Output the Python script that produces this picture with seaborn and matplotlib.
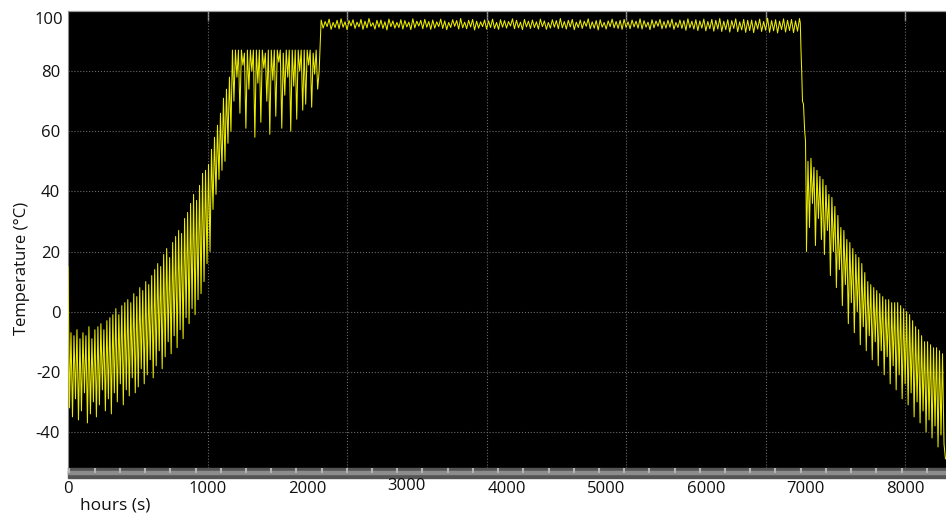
import numpy as np
import pandas as pd
import matplotlib
matplotlib.use("Agg")
import matplotlib.pyplot as plt
from matplotlib.patches import Rectangle
import seaborn as sns

# temperature trace, piece by piece
# warm-up: regular 15 s steps from the left edge
warmup_start, warmup_step = -400, 15
warmup = [15, -32, -7, -35, -8, -29, -6, -36, -9, -33,
          -7, -27, -8, -37, -5, -34, -9, -30, -6, -35,
          -5, -31, -4, -26, -6, -33, -3, -29, -2, -34,
          -1, -27, 1, -30, -1, -24, 2, -31, 3, -26,
          4, -28, 3, -22, 6, -27, 5, -25, 8, -19,
          7, -24, 10, -21, 9, -16, 12, -22, 14, -18,
          16, -13, 15, -19, 19, -15, 21, -10, 18, -14,
          23, -8, 25, -12, 27, -6, 26, -9, 31, -2,
          33, -4, 36, 1, 39, -1, 37, 4, 42, 6,
          46, 10, 47, 16, 49, 20, 54, 34, 58, 39,
          62, 44, 66, 47, 71, 50, 74, 56, 78, 60, 87]

# first hold, capped near 87
hold87_start, hold87_step = 1265, 15
hold87 = [70, 87, 78, 87, 66, 87, 82, 86, 61, 87,
          74, 87, 80, 87, 58, 87, 76, 87, 63, 87,
          81, 86, 70, 87, 59, 87, 77, 87, 65, 87,
          83, 87, 61, 86, 72, 87, 78, 87, 60, 87,
          75, 87, 64, 87, 80, 87, 67, 87, 69, 87,
          82, 87, 68, 86, 79, 87, 74, 80]

# second hold around 95
hold97_start, hold97_step = 2140, 20
hold97 = [97.0, 94.3, 96.5, 94.8, 97.3, 93.9, 96.2, 94.5, 96.9, 94.1,
          97.4, 94.6, 96.4, 93.8, 96.8, 95.0, 97.1, 94.2, 96.3, 94.7,
          97.2, 93.9, 96.6, 94.4, 97.5, 94.9, 96.1, 94.0, 96.9, 94.6,
          97.0, 94.2, 96.4, 93.7, 97.3, 94.8, 96.7, 94.3, 96.2, 94.5,
          97.1, 94.0, 96.8, 94.7, 96.3, 93.8, 97.4, 94.4, 96.6, 95.0,
          96.9, 94.1, 97.2, 94.6, 96.5, 93.9, 97.0, 94.3, 96.4, 94.8,
          97.3, 94.2, 96.7, 93.8, 96.2, 94.5, 97.1, 94.9, 96.8, 94.0,
          97.5, 94.4, 96.3, 94.1, 96.9, 94.7, 97.2, 93.7, 96.6, 94.3,
          96.4, 94.8, 97.0, 94.0, 96.7, 94.5, 97.3, 94.2, 96.2, 93.9,
          97.1, 94.6, 96.8, 94.3, 96.5, 95.0, 97.4, 94.1, 96.9, 94.4,
          96.3, 93.8, 97.2, 94.7, 96.6, 94.2, 97.0, 94.5, 96.4, 94.0,
          97.3, 94.8, 96.7, 93.9, 96.2, 94.3, 97.1, 94.6, 96.8, 94.1,
          97.5, 94.4, 96.5, 94.0, 96.9, 94.7, 97.2, 93.8, 96.3, 94.5,
          97.0, 94.2, 96.6, 94.9, 97.4, 94.1, 96.4, 94.3, 96.8, 93.7,
          97.1, 94.6, 96.2, 94.0, 96.7, 94.8, 97.3, 94.4, 96.5, 94.2,
          96.9, 93.9, 97.2, 94.5, 96.4, 94.1, 97.0, 94.7, 96.6, 94.3,
          97.4, 94.0, 96.8, 94.6, 96.3, 93.8, 97.1, 94.4, 96.7, 94.9,
          97.2, 94.1, 96.5, 94.3, 96.9, 94.6, 97.3, 93.9, 96.2, 94.5,
          97.0, 94.2, 96.8, 93.6, 97.4, 94.4, 96.6, 94.0, 97.1, 93.5,
          96.7, 94.3, 97.3, 93.4, 96.5, 94.1, 97.2, 93.3, 96.9, 94.0,
          97.5, 93.2, 96.6, 93.8, 97.1, 93.0, 96.8, 94.2, 97.4, 93.1,
          96.4, 93.7, 97.2, 92.9, 96.9, 93.5, 97.0, 92.8, 96.7, 94.0,
          97.3, 93.2, 96.5, 93.6, 97.6, 92.9, 96.8, 93.4, 97.1, 92.7,
          96.6, 93.8, 97.4, 93.0, 96.9, 93.5, 97.2, 92.8, 96.7, 93.3,
          97.5]

# sharp fall after the second hold
drop_t = [6948, 6955, 6962, 6970, 6980, 6992, 7000, 7006, 7010]
drop_v = [96, 87, 80, 70, 69, 60, 57, 40, 20]

# cool-down
cool_start, cool_step = 7025, 15
cool = [50, 28, 51, 36, 48, 22, 47, 31, 45, 24,
        44, 19, 42, 27, 39, 12, 38, 20, 35, 8,
        32, 14, 28, 2, 27, 9, 24, -4, 23, 3,
        21, -7, 19, 0, 18, -11, 16, -5, 13, -13,
        10, -8, 9, -16, 8, -10, 7, -18, 6, -13,
        5, -21, 4, -15, 4, -24, 3, -18, 3, -26,
        3, -21, 2, -29, 1, -24, 0, -31, -1, -27,
        -3, -35, -5, -30, -6, -37, -8, -33, -10, -40,
        -10, -36, -11, -42, -12, -38, -12, -45, -13, -41,
        -14, -44, -49]

xtick_pos = [-400, 1000, 2000, 3000, 4000, 5000, 6000, 7000, 8000]
xtick_lab = ['0', '1000', '2000', '3000', '4000', '5000', '6000', '7000', '8000']
ytick_pos = [-40, -20, 0, 20, 40, 60, 80]
xgrid_pos = [1000, 2400, 3800, 5200, 6600, 8000]

def times(start, step, vals):
    return start + step * np.arange(len(vals))

t = np.concatenate([times(warmup_start, warmup_step, warmup),
                    times(hold87_start, hold87_step, hold87),
                    times(hold97_start, hold97_step, hold97),
                    np.array(drop_t),
                    times(cool_start, cool_step, cool)])
temp = np.concatenate([warmup, hold87, hold97, drop_v, cool])
df = pd.DataFrame({'t': t, 'temp': temp})

sns.set_style("white")
plt.rcParams['font.family'] = ['Open Sans', 'DejaVu Sans']
plt.rcParams['axes.unicode_minus'] = False

fig = plt.figure(figsize=(9.46, 5.17), dpi=100)
ax = fig.add_axes([68/946, 1 - 468/517, (946 - 68)/946, 457/517])
ax.set_facecolor('black')

sns.lineplot(data=df, x='t', y='temp', ax=ax, color='#ecec00', linewidth=0.75,
             estimator=None, sort=False, legend=False, zorder=3)

ax.set_xlim(-400, 8410)
ax.set_ylim(-52, 100)
ax.set_xlabel('')
ax.set_ylabel('')

# y axis
ax.set_yticks(ytick_pos)
ax.tick_params(axis='y', direction='in', length=7, width=1, color='#9a9a9a',
               labelsize=12, pad=5.5, labelcolor='#111111')
ax.yaxis.grid(True, linestyle=':', color='#6a6a6a', linewidth=0.8)
ax.annotate('100', xy=(0, 100), xycoords=('axes fraction', 'data'),
            xytext=(-5, -9), textcoords='offset pixels', ha='right', va='center',
            fontsize=12, color='#111111')

# x axis
ax.set_xticks(xtick_pos, xtick_lab)
ax.set_xticks(np.arange(-385, 8410, 253), minor=True)
ax.tick_params(axis='x', which='major', length=0, pad=9.5, labelsize=12, labelcolor='#111111')
ax.tick_params(axis='x', which='minor', direction='out', length=3.5, width=1.5,
               color='#b4b4b4', bottom=True)
ax.get_xticklabels()[3].set_y(3/457)  # the 3000 label sits a bit higher
ax.vlines(xgrid_pos, -52, 100, colors='#6a6a6a', linestyles=':', linewidth=0.8, zorder=0.6)

top = ax.secondary_xaxis('top')
top.set_xticks(xgrid_pos)
top.tick_params(direction='in', length=7, width=1, color='#9a9a9a', labeltop=False)
top.spines['top'].set_color('#9a9a9a')

# grey bar under the plot
ax.add_patch(Rectangle((0, -10/457), 1, 10/457, transform=ax.transAxes,
                       clip_on=False, color='#555555', zorder=0.2))
ax.add_patch(Rectangle((0, -6/457), 1, 3/457, transform=ax.transAxes,
                       clip_on=False, color='#8c8c8c', zorder=0.3))

ax.spines['bottom'].set_visible(False)
ax.spines['right'].set_visible(False)
ax.spines['left'].set_color('#8a8a8a')
ax.spines['top'].set_color('#9a9a9a')

fig.text(22/946, 1 - 268/517, 'Temperature (°C)', rotation=90, ha='center',
         va='center', fontsize=12, color='#111111')
fig.text(80/946, 1 - 505/517, 'hours (s)', ha='left', va='center',
         fontsize=12.5, color='#111111')

fig.savefig('out.png', dpi=100, facecolor='white')
